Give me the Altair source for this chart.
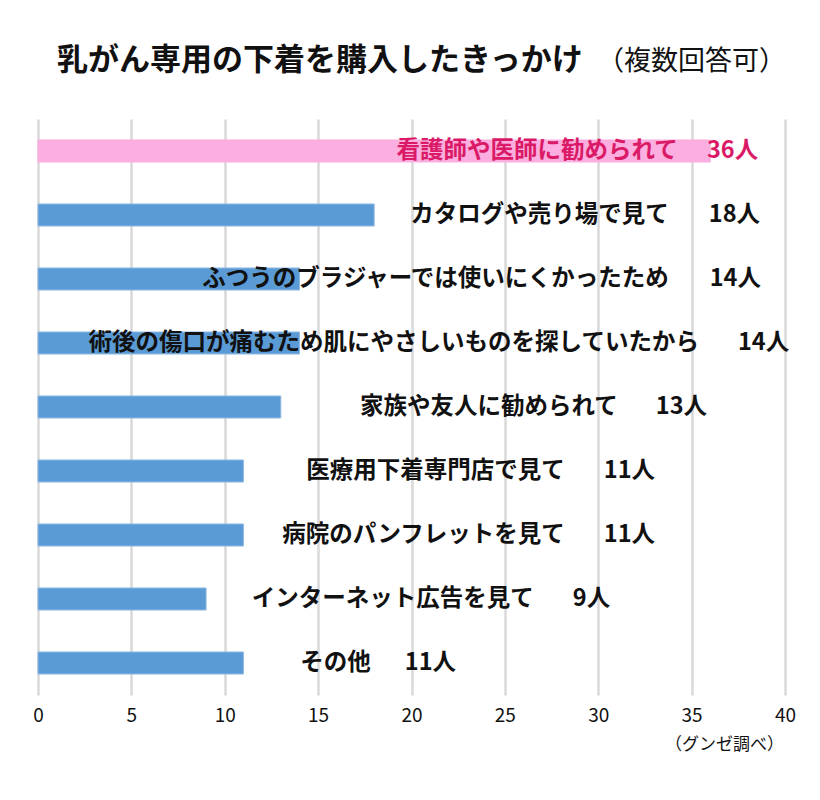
import altair as alt
import pandas as pd

categories = [
    "看護師や医師に勧められて",
    "カタログや売り場で見て",
    "ふつうのブラジャーでは使いにくかったため",
    "術後の傷口が痛むため肌にやさしいものを探していたから",
    "家族や友人に勧められて",
    "医療用下着専門店で見て",
    "病院のパンフレットを見て",
    "インターネット広告を見て",
    "その他",
]
values = [36, 18, 14, 14, 13, 11, 11, 9, 11]
count_labels = ["36人", "18人", "14人", "14人", "13人", "11人", "11人", "9人", "11人"]
groups = ["hl", "n", "n", "n", "n", "n", "n", "n", "n"]
# label anchors in data units (as laid out in the original)
label_end = [34.26, 33.78, 33.78, 35.39, 31.05, 28.21, 28.21, 26.55, 17.82]
count_start = [35.82, 35.92, 35.97, 37.48, 33.08, 30.30, 30.30, 28.64, 19.64]
x_ticks = [0, 5, 10, 15, 20, 25, 30, 35, 40]

title_main = "乳がん専用の下着を購入したきっかけ"
title_sub = "（複数回答可）"
source_note = "（グンゼ調べ）"

df = pd.DataFrame({
    "category": categories,
    "value": values,
    "count": count_labels,
    "group": groups,
    "label_end": label_end,
    "count_start": count_start,
})

FONT = "Noto Sans CJK JP"

y_enc = alt.Y("category:N", sort=categories, axis=None,
              scale=alt.Scale(paddingInner=0.656, paddingOuter=0.328))

bars = alt.Chart(df).mark_bar(strokeWidth=1).encode(
    x=alt.X("value:Q",
            scale=alt.Scale(domain=[0, 40], nice=False),
            axis=alt.Axis(values=x_ticks, title=None, domain=False, ticks=False,
                          grid=True, gridColor="#D9D9D9", gridWidth=2.5,
                          labelFont=FONT, labelFontSize=19, labelColor="#111111",
                          labelPadding=11, labelFlush=False)),
    y=y_enc,
    color=alt.Color("group:N", legend=None,
                    scale=alt.Scale(domain=["hl", "n"], range=["#FBAEDF", "#5B9BD5"])),
    stroke=alt.Stroke("group:N", legend=None,
                      scale=alt.Scale(domain=["hl", "n"], range=["#FBAEDF", "#8DB8E2"])),
)

text_color = alt.Color("group:N", legend=None,
                       scale=alt.Scale(domain=["hl", "n"], range=["#DA1A66", "#111111"]))

labels = alt.Chart(df).mark_text(
    align="right", baseline="middle", font=FONT, fontSize=23.5, fontWeight="bold"
).encode(
    x="label_end:Q", y=y_enc, text="category:N", color=text_color
)

counts = alt.Chart(df).mark_text(
    align="left", baseline="middle", font=FONT, fontSize=23.5, fontWeight="bold"
).encode(
    x="count_start:Q", y=y_enc, text="count:N", color=text_color
)

t_main = alt.Chart(pd.DataFrame({"t": [title_main]})).mark_text(
    align="left", baseline="middle", font=FONT, fontSize=31, fontWeight="bold", color="#111111"
).encode(x=alt.value(19), y=alt.value(-58), text="t:N")

t_sub = alt.Chart(pd.DataFrame({"t": [title_sub]})).mark_text(
    align="left", baseline="middle", font=FONT, fontSize=27, fontWeight="normal", color="#111111"
).encode(x=alt.value(559), y=alt.value(-57), text="t:N")

note = alt.Chart(pd.DataFrame({"t": [source_note]})).mark_text(
    align="right", baseline="middle", font=FONT, fontSize=17, color="#111111"
).encode(x=alt.value(746), y=alt.value(626), text="t:N")

chart = alt.layer(bars, labels, counts, t_main, t_sub, note).resolve_scale(
    color="independent"
).properties(
    width=747,
    height=576,
    autosize=alt.AutoSizeParams(type="none"),
    padding={"left": 30, "top": 111, "right": 20, "bottom": 70},
).configure_view(stroke=None)

chart.save("out.html", embed_options={"renderer": "svg", "actions": False})
